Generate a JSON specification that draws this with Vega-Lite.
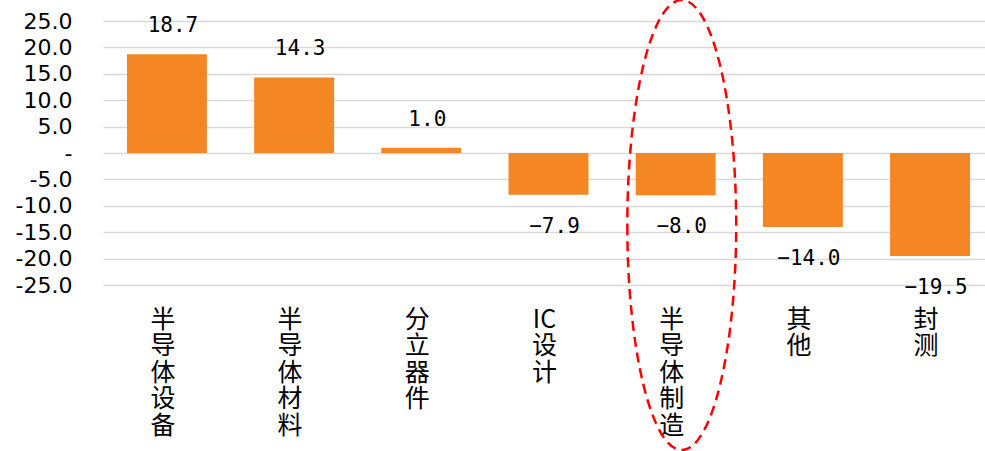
{
  "$schema": "https://vega.github.io/schema/vega-lite/v6.json",
  "width": 882,
  "height": 264,
  "autosize": "none",
  "padding": {"left": 103, "top": 21, "right": 0, "bottom": 166},
  "background": "white",
  "config": {"view": {"stroke": null}, "axis": {"labelOverlap": false}},
  "data": {
    "values": [
      {"cat": "半导体设备", "v": 18.7},
      {"cat": "半导体材料", "v": 14.3},
      {"cat": "分立器件", "v": 1.0},
      {"cat": "IC设计", "v": -7.9},
      {"cat": "半导体制造", "v": -8.0},
      {"cat": "其他", "v": -14.0},
      {"cat": "封测", "v": -19.5}
    ]
  },
  "encoding": {
    "x": {
      "field": "cat", "type": "nominal", "sort": null,
      "scale": {"range": [0, 891], "paddingInner": 0.3716, "paddingOuter": 0.1885},
      "axis": {
        "title": null, "domain": false, "ticks": false, "grid": false,
        "labelAngle": 0, "labelAlign": "center", "labelBaseline": "top",
        "labelPadding": 22, "labelOffset": -4,
        "labelFont": "Noto Sans CJK SC", "labelFontSize": 25, "labelLineHeight": 26.5,
        "labelColor": "#000000", "labelOverlap": false, "labelBound": false,
        "labelExpr": "datum.label == 'IC设计' ? ['IC','设','计'] : split(datum.label, '')"
      }
    },
    "y": {
      "field": "v", "type": "quantitative",
      "scale": {"domain": [-25, 25], "nice": false, "zero": true},
      "axis": {
        "title": null, "domain": false, "ticks": false,
        "values": [-25, -20, -15, -10, -5, 0, 5, 10, 15, 20, 25],
        "grid": true, "gridColor": "#d9d9d9", "gridWidth": 1.5,
        "labelFont": "DejaVu Sans", "labelFontSize": 22, "labelColor": "#000000",
        "labelPadding": 31, "labelOverlap": false, "labelBound": false, "labelFlush": false,
        "labelExpr": "datum.value == 0 ? '-' : (datum.value < 0 ? '-' + format(-datum.value, '.1f') : format(datum.value, '.1f'))"
      }
    }
  },
  "layer": [
    {
      "mark": {"type": "bar", "color": "#F48624"}
    },
    {
      "transform": [{"filter": "datum.v > 0"}],
      "mark": {"type": "text", "font": "DejaVu Sans Mono", "fontSize": 21, "color": "#000000", "baseline": "middle", "align": "center", "dy": -28, "dx": 6},
      "encoding": {
        "text": {"field": "v", "type": "quantitative", "format": ".1f"}
      }
    },
    {
      "transform": [{"filter": "datum.v < 0"}],
      "mark": {"type": "text", "font": "DejaVu Sans Mono", "fontSize": 21, "color": "#000000", "baseline": "middle", "align": "center", "dy": 32, "dx": 6},
      "encoding": {
        "text": {"field": "v", "type": "quantitative", "format": ".1f"}
      }
    },
    {
      "data": {"values": [{"cat": "半导体制造", "v": -13.64}]},
      "mark": {
        "type": "point",
        "shape": "M -0.215,0 A 0.242,1 0 1,0 0.269,0 A 0.242,1 0 1,0 -0.215,0 Z",
        "size": 202500, "filled": false, "stroke": "#FF0000", "strokeWidth": 2.5,
        "strokeDash": [10, 6], "opacity": 1
      }
    }
  ]
}
